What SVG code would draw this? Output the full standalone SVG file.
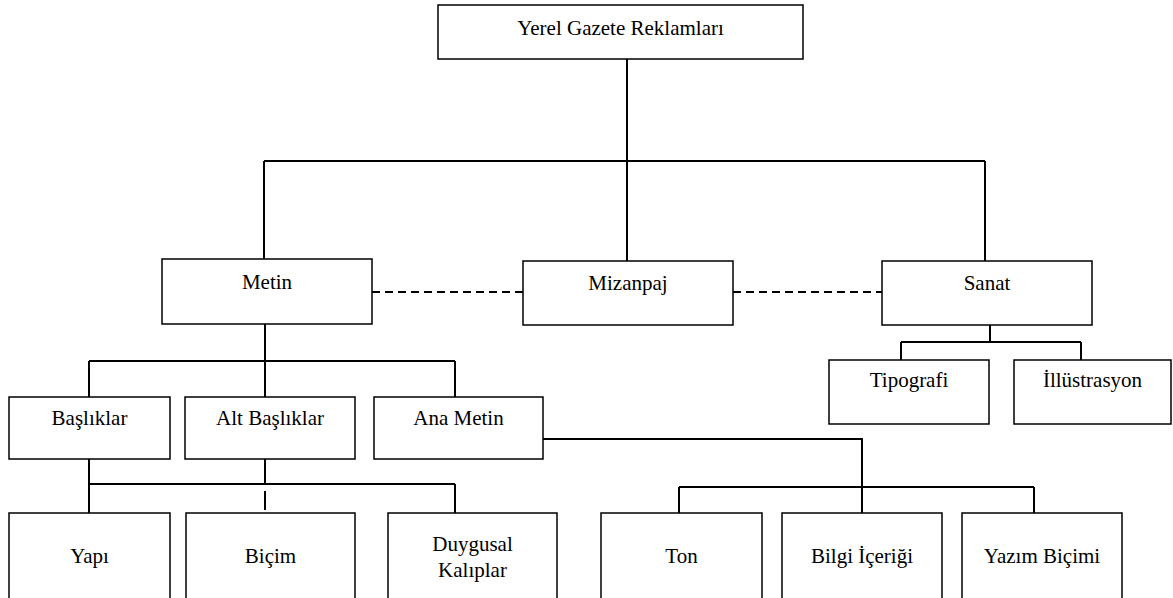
<svg xmlns="http://www.w3.org/2000/svg" width="1173" height="598" viewBox="0 0 1173 598">
<style>
.box{fill:#fff;stroke:#000;stroke-width:1.5}
text{font-family:'Liberation Serif','Times New Roman',serif;font-size:21px;fill:#000;text-anchor:middle}
.c{fill:none;stroke:#000;stroke-width:2}
.d{fill:none;stroke:#000;stroke-width:2;stroke-dasharray:8 5}
</style>
<rect width="1173" height="598" fill="#fff"/>
<g id="connectors">
<path class="c" d="M627 59V261M264 161H985M264 161V259M985 161V261"/>
<path class="d" d="M372 292H523M733 292H882"/>
<path class="c" d="M265 324V361M89 361H455M89 361V397M265 361V397M455 361V397"/>
<path class="c" d="M990 325V342M901 342H1081M901 342V360M1081 342V360"/>
<path class="c" d="M89 459V513M265 459V484M89 484H455M455 484V513M265 491V510"/>
<path class="c" d="M543 439H862V513M679 487H1034M679 487V513M1034 487V513"/>
</g>
<g id="n-root"><rect class="box" x="438" y="5" width="365" height="54"/><text x="620.5" y="35">Yerel Gazete Reklamları</text></g>
<g id="n-metin"><rect class="box" x="162" y="259" width="210" height="65"/><text x="267" y="289">Metin</text></g>
<g id="n-mizanpaj"><rect class="box" x="523" y="261" width="210" height="64"/><text x="628" y="290">Mizanpaj</text></g>
<g id="n-sanat"><rect class="box" x="882" y="261" width="210" height="64"/><text x="987" y="290">Sanat</text></g>
<g id="n-tipografi"><rect class="box" x="829" y="360" width="160" height="64"/><text x="909" y="387">Tipografi</text></g>
<g id="n-illustrasyon"><rect class="box" x="1014" y="360" width="157" height="64"/><text x="1092.5" y="387">İllüstrasyon</text></g>
<g id="n-basliklar"><rect class="box" x="9" y="397" width="161" height="62"/><text x="89.5" y="425">Başlıklar</text></g>
<g id="n-altbasliklar"><rect class="box" x="185" y="397" width="170" height="62"/><text x="270" y="425">Alt Başlıklar</text></g>
<g id="n-anametin"><rect class="box" x="374" y="397" width="169" height="62"/><text x="458.5" y="425">Ana Metin</text></g>
<g id="n-yapi"><rect class="box" x="9" y="513" width="161" height="100"/><text x="89.5" y="563">Yapı</text></g>
<g id="n-bicim"><rect class="box" x="186" y="513" width="169" height="100"/><text x="270.5" y="563">Biçim</text></g>
<g id="n-duygusal"><rect class="box" x="388" y="513" width="169" height="100"/><text x="472.5" y="551">Duygusal</text><text x="472.5" y="577">Kalıplar</text></g>
<g id="n-ton"><rect class="box" x="601" y="513" width="161" height="100"/><text x="681.5" y="563">Ton</text></g>
<g id="n-bilgi"><rect class="box" x="782" y="513" width="160" height="100"/><text x="862" y="563">Bilgi İçeriği</text></g>
<g id="n-yazim"><rect class="box" x="962" y="513" width="160" height="100"/><text x="1042" y="563">Yazım Biçimi</text></g>
</svg>
